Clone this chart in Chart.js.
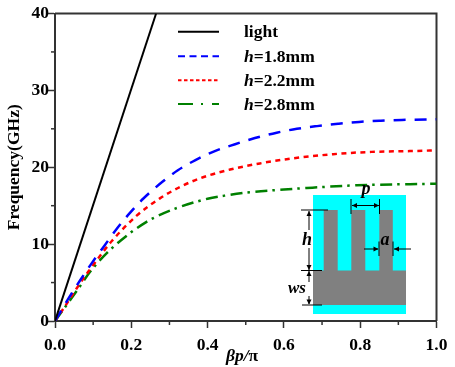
<!DOCTYPE html>
<html><head><meta charset="utf-8">
<style>html,body{margin:0;padding:0;background:#fff}#w{width:455px;height:367px}</style>
<script src="https://cdn.jsdelivr.net/npm/chart.js@4"></script></head>
<body><div id="w"><canvas id="c" width="455" height="367"></canvas></div>
<script>
const lightX=[0,0.265];
const lightY=[0,40];
const blueX=[0,0.035,0.066,0.096,0.131,0.162,0.197,0.231,0.284,0.322,0.367,0.419,0.472,0.524,0.581,0.634,0.687,0.742,0.797,0.854,0.909,1];
const blueY=[0,2.9,5.3,7.5,9.9,12,14.1,15.9,18.2,19.6,20.9,22.1,23,23.8,24.5,25,25.35,25.65,25.9,26.05,26.15,26.25];
const redX=[0,0.03,0.057,0.087,0.114,0.149,0.214,0.275,0.328,0.388,0.459,0.537,0.607,0.729,0.83,0.93,1];
const redY=[0,2.2,4.26,6.4,8.2,10.4,13.7,15.95,17.45,18.7,19.7,20.5,21.05,21.7,22,22.1,22.2];
const greenX=[0,0.03,0.061,0.092,0.135,0.188,0.24,0.275,0.322,0.4,0.45,0.51,0.6,0.66,0.79,0.93,1];
const greenY=[0,2.05,4.2,6.4,8.8,11.1,12.9,13.8,14.75,15.9,16.35,16.75,17.1,17.3,17.65,17.8,17.85];
const legendLabels=["light","=1.8mm","=2.2mm","=2.8mm"];
const colors=["#000000","#0000ff","#ff0000","#008000"];
const dashes=[[],[12,9],[5,4.5],[12,5,2.5,5.5]];
const legendDashes=[[],[7,4.5],[3.5,2.5],[15,8,2,9]];
const xTitle=["\u03b2p/","\u03c0"];
const yTitle="Frequency(GHz)";
const serif='"Liberation Serif","Times New Roman",serif';
const zip=(a,b)=>a.map((x,i)=>({x,y:b[i]}));
const ds=(xs,ys,i)=>({data:zip(xs,ys),borderColor:colors[i],borderDash:dashes[i],borderWidth:i?2.5:2,pointRadius:0,cubicInterpolationMode:'monotone',clip:true});

const overlay={id:'overlay',
 beforeDatasetsDraw(ch){
  const ctx=ch.ctx;const a=ch.chartArea;
  ctx.save();ctx.strokeStyle='#333';ctx.lineWidth=2;ctx.beginPath();
  ctx.moveTo(a.left,a.top);ctx.lineTo(a.right,a.top);ctx.lineTo(a.right,a.bottom);ctx.stroke();
  ctx.lineWidth=1.5;
  const X=ch.scales.x,Y=ch.scales.y;
  [0.1,0.3,0.5,0.7,0.9].forEach(v=>{const p=X.getPixelForValue(v);ctx.beginPath();ctx.moveTo(p,a.bottom);ctx.lineTo(p,a.bottom+4);ctx.stroke();});
  [5,15,25,35].forEach(v=>{const p=Y.getPixelForValue(v);ctx.beginPath();ctx.moveTo(a.left,p);ctx.lineTo(a.left-4,p);ctx.stroke();});
  ctx.restore();
 },
 afterDatasetsDraw(ch){
  const ctx=ch.ctx;ctx.save();
  // inset schematic
  ctx.fillStyle='#00ffff';ctx.fillRect(313,195,93,119);
  ctx.fillStyle='#808080';ctx.fillRect(313,270.5,93,34.5);
  [[323.7,14],[351.3,14],[379.3,13.5]].forEach(t=>ctx.fillRect(t[0],210,t[1],61));
  ctx.strokeStyle='#000';ctx.fillStyle='#000';
  const ln=(x1,y1,x2,y2,w)=>{ctx.lineWidth=w||1;ctx.beginPath();ctx.moveTo(x1,y1);ctx.lineTo(x2,y2);ctx.stroke();};
  const tri=(x,y,dx,dy)=>{ctx.beginPath();ctx.moveTo(x,y);ctx.lineTo(x-dx*5+dy*2.5,y-dy*5+dx*2.5);ctx.lineTo(x-dx*5-dy*2.5,y-dy*5-dx*2.5);ctx.closePath();ctx.fill();};
  ln(301,210,328,210);ln(301,270.5,322,270.5);ln(302,305,322,305);
  ln(309,211,309,230);tri(309,211,0,-1);ln(309,248,309,270);tri(309,270,0,1);
  ln(309,271,309,282);tri(309,271,0,-1);ln(309,296,309,304);tri(309,304.5,0,1);
  ln(351,199,351,214);ln(379.5,199,379.5,214);ln(352,205.5,379,205.5);tri(352,205.5,-1,0);tri(379,205.5,1,0);
  ln(379,241.5,379,256);ln(393,241.5,393,256);ln(364,249,378,249);tri(378.5,249,1,0);ln(394,249,411,249);tri(394,249,-1,0);
  ctx.textBaseline='alphabetic';ctx.textAlign='center';
  ctx.font='italic bold 18px '+serif;
  ctx.fillText('p',366,194);ctx.fillText('h',307,245);ctx.fillText('a',385,245);
  ctx.font='italic bold 17px '+serif;ctx.fillText('ws',297,293);
  // legend
  const ys=[31.7,56.3,80.3,104];
  ys.forEach((y,i)=>{
    ctx.strokeStyle=colors[i];ctx.lineWidth=2;ctx.setLineDash(legendDashes[i]);
    ctx.beginPath();ctx.moveTo(178,y);ctx.lineTo(219,y);ctx.stroke();ctx.setLineDash([]);
    ctx.fillStyle='#000';ctx.textAlign='left';
    let x=244;
    if(i>0){ctx.font='italic bold 17.5px '+serif;ctx.fillText('h',x,y+5.5);x+=ctx.measureText('h').width;}
    ctx.font='bold 17.5px '+serif;ctx.fillText(legendLabels[i],x,y+5.5);
  });
  // x title
  ctx.font='italic bold 17.5px '+serif;const w1=ctx.measureText(xTitle[0]).width;
  ctx.fillText(xTitle[0],226,361);
  ctx.font='bold 17.5px '+serif;ctx.fillText(xTitle[1],226+w1,361);
  ctx.restore();
 }};

new Chart(document.getElementById('c'),{type:'line',
 data:{datasets:[ds(lightX,lightY,0),ds(blueX,blueY,1),ds(redX,redY,2),ds(greenX,greenY,3)]},
 plugins:[overlay],
 options:{responsive:false,animation:false,parsing:false,
  layout:{padding:{top:13.5,right:18.5,left:4,bottom:0}},
  plugins:{legend:{display:false},tooltip:{enabled:false}},
  scales:{
   x:{type:'linear',min:0,max:1,afterFit(s){s.height=46;},
     border:{color:'#333',width:2},
     grid:{drawOnChartArea:false,tickLength:7,tickWidth:1.5,tickColor:'#333'},
     ticks:{stepSize:0.2,maxRotation:0,padding:7,color:'#000',font:{family:serif,size:17.5,weight:'bold'},callback:v=>v.toFixed(1)}},
   y:{type:'linear',min:0,max:40,afterFit(s){s.width=51;},
     border:{color:'#333',width:2},
     grid:{drawOnChartArea:false,tickLength:8,tickWidth:1.5,tickColor:'#333'},
     title:{display:true,text:yTitle,color:'#000',font:{family:serif,size:17.5,weight:'bold'},padding:{top:0,bottom:0}},
     ticks:{stepSize:10,padding:-2,color:'#000',font:{family:serif,size:17.5,weight:'bold'}}}
  }}});
</script></body></html>
